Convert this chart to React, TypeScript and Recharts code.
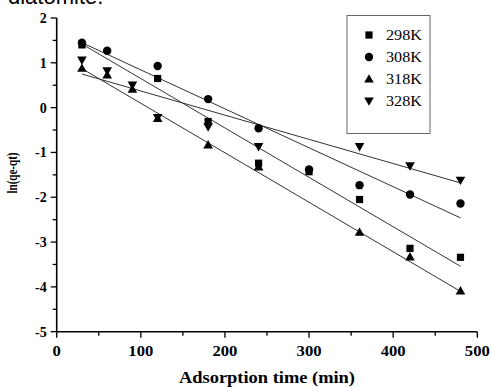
import React from 'react';
import { ComposedChart, Scatter, Line, XAxis, YAxis } from 'recharts';

// adsorption time (min)
const times = [30, 60, 90, 120, 180, 240, 300, 360, 420, 480];

// ln(qe-qt), null where no point is drawn
const k298 = [1.40, null, null, 0.65, -0.31, -1.24, -1.43, -2.05, -3.14, -3.34];
const k298x = [30, 70, null, 120, 180, 240, 300, 360, 420, 480];
const k308 = [1.45, 1.27, null, 0.93, 0.19, -0.46, -1.38, -1.73, -1.94, -2.14];
const k318 = [0.88, 0.73, 0.41, -0.24, -0.83, -1.32, null, -2.78, -3.33, -4.09];
const k328 = [1.06, 0.82, 0.50, -0.22, -0.43, -0.87, null, -0.87, -1.30, -1.62];

// linear fits, value at first and last time
const fitX = [30, 480];
const fit298 = [1.42, -3.54];
const fit308 = [1.45, -2.46];
const fit318 = [0.87, -4.10];
const fit328 = [0.75, -1.68];

const xTicks = [0, 50, 100, 150, 200, 250, 300, 350, 400, 450, 500];
const yTicks = [-5, -4.5, -4, -3.5, -3, -2.5, -2, -1.5, -1, -0.5, 0, 0.5, 1, 1.5, 2];

const legendItems = [
  { name: '298K', shape: 'square' },
  { name: '308K', shape: 'circle' },
  { name: '318K', shape: 'up' },
  { name: '328K', shape: 'down' },
];

const toPoints = (xs: (number | null)[], ys: (number | null)[]) =>
  xs.map((x, i) => ({ x, y: ys[i] })).filter(p => p.x != null && p.y != null);

const toFit = (ys: number[]) => fitX.map((x, i) => ({ x, y: ys[i] }));

const SERIF = '"Liberation Serif", "Times New Roman", serif';

const Marker = ({ cx, cy, shape }: { cx: number; cy: number; shape: string }) => {
  if (cx == null || cy == null) return null;
  if (shape === 'square') return <rect x={cx - 3.6} y={cy - 3.6} width={7.2} height={7.2} fill="#000" />;
  if (shape === 'circle') return <circle cx={cx} cy={cy} r={4.2} fill="#000" />;
  if (shape === 'up')
    return <polygon points={`${cx},${cy - 4.8} ${cx + 4.8},${cy + 3.6} ${cx - 4.8},${cy + 3.6}`} fill="#000" />;
  return <polygon points={`${cx},${cy + 4.8} ${cx + 4.8},${cy - 3.6} ${cx - 4.8},${cy - 3.6}`} fill="#000" />;
};

const XTick = (props: any) => {
  const { x, y, payload } = props;
  const major = payload.value % 100 === 0;
  const label = String(payload.value);
  return (
    <g>
      <line x1={x} x2={x} y1={y} y2={y + (major ? 6 : 4)} stroke="#000" strokeWidth={1.3} />
      {major && (
        <text
          x={x}
          y={y + 24}
          textAnchor="middle"
          fontFamily={SERIF}
          fontWeight="bold"
          fontSize={14.5}
          fill="#000"
          textLength={label.length * 8.3}
          lengthAdjust="spacingAndGlyphs"
        >
          {label}
        </text>
      )}
    </g>
  );
};

const YTick = (props: any) => {
  const { x, y, payload } = props;
  const major = Number.isInteger(payload.value);
  return (
    <g>
      <line x1={x} x2={x - (major ? 6 : 4)} y1={y} y2={y} stroke="#000" strokeWidth={1.3} />
      {major && (
        <text x={x - 10} y={y + 5} textAnchor="end" fontFamily={SERIF} fontWeight="bold" fontSize={14} fill="#000">
          {payload.value}
        </text>
      )}
    </g>
  );
};

const series = [
  { name: '298K', pts: toPoints(k298x, k298), fit: toFit(fit298), shape: 'square' },
  { name: '308K', pts: toPoints(times, k308), fit: toFit(fit308), shape: 'circle' },
  { name: '318K', pts: toPoints(times, k318), fit: toFit(fit318), shape: 'up' },
  { name: '328K', pts: toPoints(times, k328), fit: toFit(fit328), shape: 'down' },
];

export default function App() {
  return (
    <div style={{ position: 'fixed', left: 0, top: 0, width: 491, height: 387, background: '#fff' }}>
      <ComposedChart
        width={491}
        height={387}
        margin={{ top: 18, right: 13.7, left: 6.7, bottom: 15.3 }}
      >
        <XAxis
          type="number"
          dataKey="x"
          domain={[0, 500]}
          ticks={xTicks}
          interval={0}
          tick={<XTick />}
          tickLine={false}
          tickSize={0}
          tickMargin={0}
          height={40}
          axisLine={{ stroke: '#000', strokeWidth: 1.6 }}
          allowDuplicatedCategory={false}
        />
        <YAxis
          type="number"
          dataKey="y"
          domain={[-5, 2]}
          ticks={yTicks}
          interval={0}
          tick={<YTick />}
          tickLine={false}
          tickSize={0}
          tickMargin={0}
          width={50}
          axisLine={{ stroke: '#000', strokeWidth: 1.6 }}
        />
        {series.map(s => (
          <Line
            key={'fit' + s.name}
            data={s.fit}
            dataKey="y"
            type="linear"
            stroke="#333"
            strokeWidth={1}
            dot={false}
            activeDot={false}
            isAnimationActive={false}
          />
        ))}
        {series.map(s => (
          <Scatter
            key={s.name}
            name={s.name}
            data={s.pts}
            isAnimationActive={false}
            shape={(p: any) => <Marker cx={p.cx} cy={p.cy} shape={s.shape} />}
          />
        ))}
      </ComposedChart>
      <svg width={491} height={387} style={{ position: 'absolute', left: 0, top: 0, pointerEvents: 'none' }}>
        {/* caption line above the chart, cut by the top edge as in the source */}
        <text x={8} y={4} fontFamily='"Liberation Sans", Arial, sans-serif' fontSize={22} fill="#000">
          diatomite.
        </text>
        <text
          x={267}
          y={383}
          textAnchor="middle"
          fontFamily={SERIF}
          fontWeight="bold"
          fontSize={16}
          fill="#000"
          textLength={176}
          lengthAdjust="spacingAndGlyphs"
        >
          Adsorption time (min)
        </text>
        <text
          transform="translate(17,173) rotate(-90)"
          textAnchor="middle"
          fontFamily={SERIF}
          fontWeight="bold"
          fontSize={14}
          fill="#000"
          textLength={41}
          lengthAdjust="spacingAndGlyphs"
        >
          ln(qe-qt)
        </text>
        <rect x={347} y={15.5} width={83} height={118} fill="#fff" stroke="#666" strokeWidth={1} />
        {legendItems.map((item, i) => (
          <g key={item.name}>
            <Marker cx={369} cy={35 + i * 22} shape={item.shape} />
            <text
              x={386}
              y={40 + i * 22}
              fontFamily={SERIF}
              fontSize={14}
              fill="#000"
              textLength={36}
              lengthAdjust="spacingAndGlyphs"
            >
              {item.name}
            </text>
          </g>
        ))}
      </svg>
    </div>
  );
}
